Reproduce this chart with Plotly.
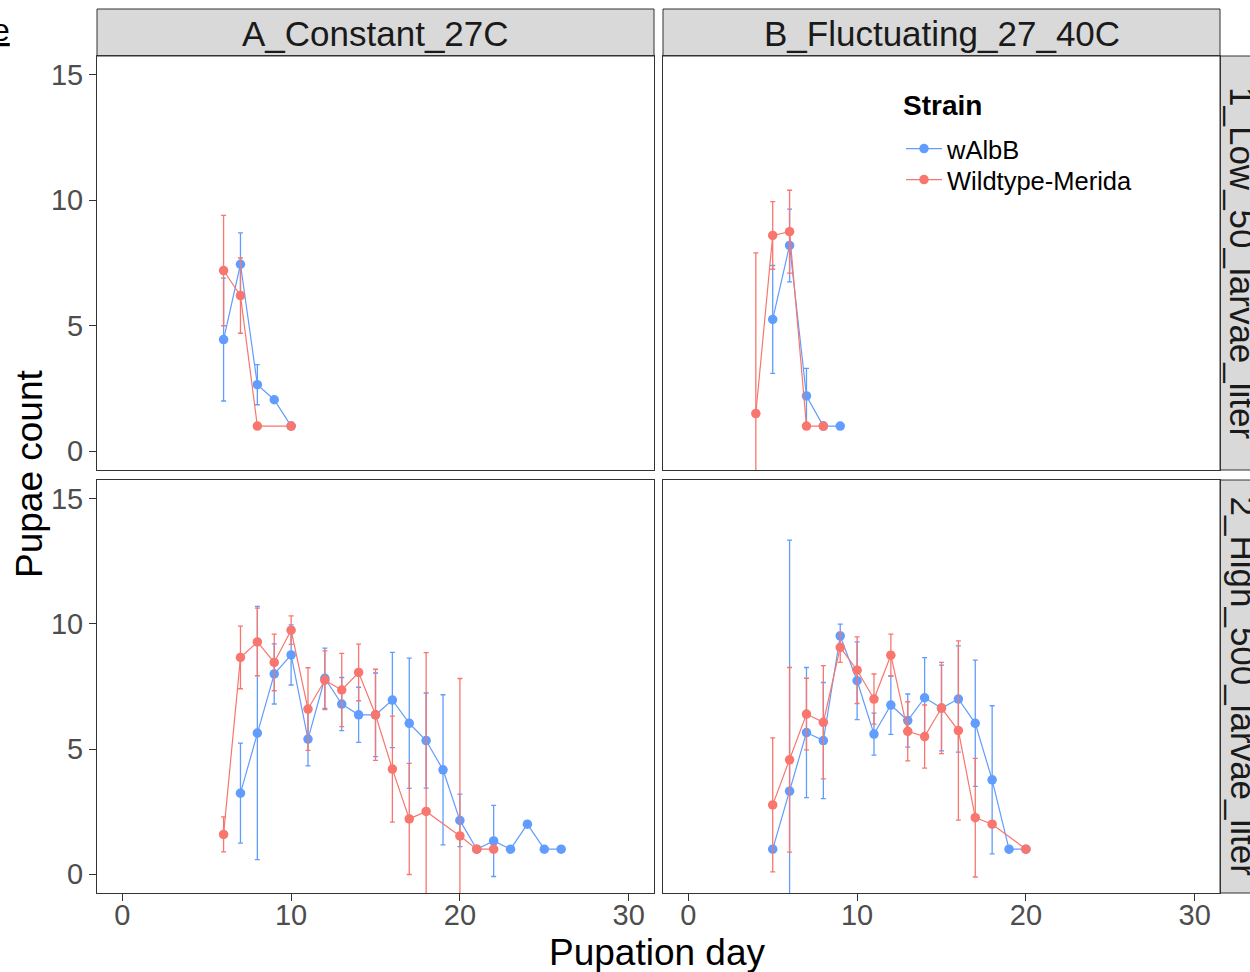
import plotly.graph_objects as go

# ---------------- data ----------------
strains = ["wAlbB", "Wildtype-Merida"]
col_labels = ["A_Constant_27C", "B_Fluctuating_27_40C"]
row_labels = ["1_Low_50_larvae_liter", "2_High_500_larvae_liter"]
x_ticks = [0, 10, 20, 30]
y_ticks = [0, 5, 10, 15]

# A_Constant_27C / Low
a_low_blue_day = [6, 7, 8, 9, 10]
a_low_blue_mean = [4.45, 7.45, 2.65, 2.05, 1.0]
a_low_blue_sd = [2.45, 1.25, 0.8, None, None]
a_low_red_day = [6, 7, 8, 10]
a_low_red_mean = [7.2, 6.2, 1.0, 1.0]
a_low_red_sd = [2.2, 1.5, None, None]

# B_Fluctuating_27_40C / Low
b_low_blue_day = [5, 6, 7, 8, 9]
b_low_blue_mean = [5.25, 8.2, 2.2, 1.0, 1.0]
b_low_blue_sd = [2.15, 1.45, 1.1, None, None]
b_low_red_day = [4, 5, 6, 7, 8]
b_low_red_mean = [1.5, 8.6, 8.75, 1.0, 1.0]
b_low_red_sd = [6.4, 1.35, 1.65, None, None]

# A_Constant_27C / High
a_high_blue_day = [7, 8, 9, 10, 11, 12, 13, 14, 15, 16, 17, 18, 19, 20, 21, 22, 23, 24, 25, 26]
a_high_blue_mean = [3.24, 5.64, 8.0, 8.76, 5.4, 7.83, 6.8, 6.37, 6.37, 6.96, 6.03, 5.34, 4.17, 2.15,
                    1.0, 1.33, 1.0, 2.0, 1.0, 1.0]
a_high_blue_sd = [2.0, 5.06, 1.2, 1.2, 1.07, 1.2, 1.06, 1.1, 1.67, 1.9, 2.6, 1.9, 3.0, 1.05,
                  None, 1.42, None, None, None, None]
a_high_red_day = [6, 7, 8, 9, 10, 11, 12, 13, 14, 15, 16, 17, 18, 20, 21, 22]
a_high_red_mean = [1.59, 8.66, 9.28, 8.46, 9.75, 6.6, 7.75, 7.36, 8.06, 6.37, 4.2, 2.21, 2.51, 1.53, 1.0, 1.0]
a_high_red_sd = [0.7, 1.25, 1.35, 1.13, 0.57, 1.65, 1.17, 1.46, 1.13, 1.82, 2.12, 2.22, 6.34, 6.29,
                 None, None]

# B_Fluctuating_27_40C / High
b_high_blue_day = [5, 6, 7, 8, 9, 10, 11, 12, 13, 14, 15, 16, 17, 18, 19, 20]
b_high_blue_mean = [1.0, 3.32, 5.66, 5.34, 9.52, 7.73, 5.6, 6.76, 6.14, 7.05, 6.64, 7.0, 6.03, 3.77, 1.0, 1.0]
b_high_blue_sd = [None, 10.03, 2.6, 2.32, 0.47, 1.55, 0.84, 1.17, 1.06, 1.6, 1.71, 2.12, 2.52, 2.96,
                  None, None]
b_high_red_day = [5, 6, 7, 8, 9, 10, 11, 12, 13, 14, 15, 16, 17, 18, 20]
b_high_red_mean = [2.77, 4.57, 6.4, 6.07, 9.06, 8.15, 7.0, 8.75, 5.71, 5.5, 6.64, 5.74, 2.26, 2.0, 1.0]
b_high_red_sd = [2.68, 3.69, 1.43, 2.26, 0.6, 1.33, 1.0, 0.84, 1.18, 1.26, 1.82, 3.58, 2.37, None, None]

# ---------------- style ----------------
BLUE = "#619CFF"
RED = "#F8766D"
FONT = "Liberation Sans, Arial, sans-serif"
W, H = 1250, 972
TICKFONT = dict(family=FONT, size=29, color="#4D4D4D")


def px(x):
    return x / W


def py(y):
    return 1 - y / H


# panel pixel boxes in the screenshot (left, right) / (top, bottom)
cols_px = [(97, 654), (663, 1220)]
rows_px = [(56, 470), (480, 893)]

panels = [
    (0, 0, a_low_blue_day, a_low_blue_mean, a_low_blue_sd, a_low_red_day, a_low_red_mean, a_low_red_sd),
    (0, 1, b_low_blue_day, b_low_blue_mean, b_low_blue_sd, b_low_red_day, b_low_red_mean, b_low_red_sd),
    (1, 0, a_high_blue_day, a_high_blue_mean, a_high_blue_sd, a_high_red_day, a_high_red_mean, a_high_red_sd),
    (1, 1, b_high_blue_day, b_high_blue_mean, b_high_blue_sd, b_high_red_day, b_high_red_mean, b_high_red_sd),
]

fig = go.Figure()
layout = {}
shapes = []
annotations = []

for i, (r, c, bd, bm, bs, rd, rm, rs) in enumerate(panels):
    n = i + 1
    xa = "x" if n == 1 else f"x{n}"
    ya = "y" if n == 1 else f"y{n}"
    xkey = "xaxis" if n == 1 else f"xaxis{n}"
    ykey = "yaxis" if n == 1 else f"yaxis{n}"
    l, rr = cols_px[c]
    t, b = rows_px[r]
    layout[xkey] = dict(
        domain=[px(l), px(rr)], range=[-1.5, 31.5], anchor=ya,
        tickvals=x_ticks, showticklabels=False, ticks="outside" if r == 1 else "",
        ticklen=7, tickwidth=1, tickcolor="#333333",
        showgrid=False, zeroline=False, showline=True, mirror=True,
        linecolor="#333333", linewidth=1,
    )
    layout[ykey] = dict(
        domain=[py(b), py(t)], range=[-0.75, 15.75], anchor=xa,
        tickvals=y_ticks, showticklabels=(c == 0), ticks="outside" if c == 0 else "",
        ticklen=7, tickwidth=1, tickcolor="#333333", tickfont=TICKFONT,
        showgrid=False, zeroline=False, showline=True, mirror=True,
        linecolor="#333333", linewidth=1,
    )
    for name, color, dd, mm, ss, lg in [(strains[0], BLUE, bd, bm, bs, "legend"),
                                        (strains[1], RED, rd, rm, rs, "legend2")]:
        fig.add_trace(go.Scatter(
            x=dd, y=mm, mode="lines+markers", name=name, legendgroup=name, legend=lg,
            showlegend=(n == 1), xaxis=xa, yaxis=ya,
            line=dict(color=color, width=1.2),
            marker=dict(color=color, size=9.5),
            error_y=dict(type="data", array=ss, symmetric=True, color=color,
                         thickness=1.3, width=2.5),
        ))

# x tick labels of the bottom row: overlay axes carrying only the labels
for k, (base_x, base_y) in enumerate([("x3", "y3"), ("x4", "y4")]):
    n = 5 + k
    layout[f"xaxis{n}"] = dict(
        overlaying=base_x, anchor="free", position=py(893 - 11), range=[-1.5, 31.5],
        tickvals=x_ticks, showticklabels=True, ticks="outside", ticklen=7,
        tickcolor="rgba(0,0,0,0)", tickfont=TICKFONT,
        showgrid=False, zeroline=False, showline=False,
    )
    fig.add_trace(go.Scatter(x=[], y=[], xaxis=f"x{n}", yaxis=base_y, showlegend=False,
                             hoverinfo="skip"))

# strips
for c, (l, rr) in enumerate(cols_px):
    shapes.append(dict(type="rect", xref="paper", yref="paper", x0=px(l), x1=px(rr),
                       y0=py(56), y1=py(9), fillcolor="#D9D9D9",
                       line=dict(color="#333333", width=1), layer="below"))
    annotations.append(dict(xref="paper", yref="paper", x=px((l + rr) / 2), y=py(33),
                            text=col_labels[c], showarrow=False, xanchor="center", yanchor="middle",
                            font=dict(family=FONT, size=35, color="#1A1A1A")))
for r, (t, b) in enumerate(rows_px):
    shapes.append(dict(type="rect", xref="paper", yref="paper", x0=px(1220), x1=px(1267),
                       y0=py(b), y1=py(t), fillcolor="#D9D9D9",
                       line=dict(color="#333333", width=1), layer="below"))
    annotations.append(dict(xref="paper", yref="paper", x=px(1243), y=py((t + b) / 2),
                            text=row_labels[r], showarrow=False, textangle=90,
                            xanchor="center", yanchor="middle",
                            font=dict(family=FONT, size=35, color="#1A1A1A")))

# axis titles
annotations.append(dict(xref="paper", yref="paper", x=px(657), y=py(952), text="Pupation day",
                        showarrow=False, xanchor="center", yanchor="middle",
                        font=dict(family=FONT, size=37, color="black")))
annotations.append(dict(xref="paper", yref="paper", x=px(30), y=py(474), text="Pupae count",
                        showarrow=False, textangle=-90, xanchor="center", yanchor="middle",
                        font=dict(family=FONT, size=37, color="black")))
# cut-off panel letter
annotations.append(dict(xref="paper", yref="paper", x=px(12), y=py(30), text="<u>e</u>",
                        showarrow=False, xanchor="right", yanchor="middle",
                        font=dict(family=FONT, size=32, color="black")))
# legend title
annotations.append(dict(xref="paper", yref="paper", x=px(901), y=py(105), text="<b>Strain</b>",
                        showarrow=False, xanchor="left", yanchor="middle",
                        font=dict(family=FONT, size=28, color="black")))

LEGFONT = dict(family=FONT, size=25.5, color="black")
fig.update_layout(
    width=W, height=H, margin=dict(l=0, r=0, t=0, b=0),
    paper_bgcolor="white", plot_bgcolor="white",
    shapes=shapes, annotations=annotations,
    legend=dict(x=px(901), y=py(149), xanchor="left", yanchor="middle",
                bgcolor="rgba(0,0,0,0)", font=LEGFONT, itemwidth=36),
    legend2=dict(x=px(901), y=py(180), xanchor="left", yanchor="middle",
                 bgcolor="rgba(0,0,0,0)", font=LEGFONT, itemwidth=36),
    **layout,
)

# the page's default 8px body margin would shift the figure; remove it
fig.write_html("out.html", config={"displayModeBar": False},
               post_script="document.body.style.margin='0px';")
